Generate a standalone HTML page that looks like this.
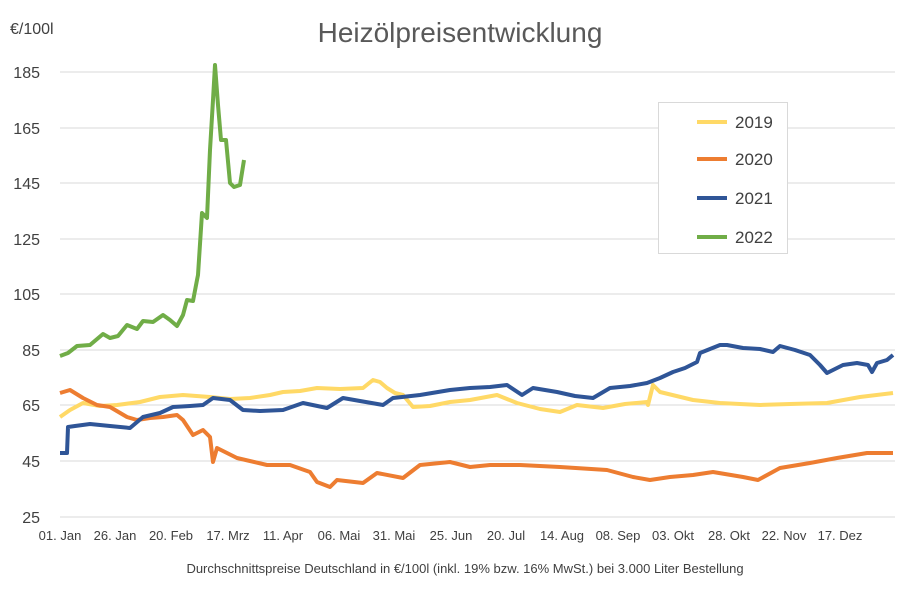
<!DOCTYPE html>
<html><head><meta charset="utf-8"><style>
body{margin:0;background:#fff;}
text{font-family:"Liberation Sans",sans-serif;}
</style></head><body>
<svg width="920" height="586" xmlns="http://www.w3.org/2000/svg">
<rect width="920" height="586" fill="#fff"/>
<text x="460" y="42" font-size="28" fill="#595959" text-anchor="middle">Heizölpreisentwicklung</text>
<text x="10" y="34" font-size="16" fill="#404040">€/100l</text>
<g stroke="#d9d9d9" stroke-width="1">
<line x1="60" x2="895" y1="72" y2="72"/><line x1="60" x2="895" y1="128" y2="128"/>
<line x1="60" x2="895" y1="183" y2="183"/><line x1="60" x2="895" y1="239" y2="239"/>
<line x1="60" x2="895" y1="294" y2="294"/><line x1="60" x2="895" y1="350" y2="350"/>
<line x1="60" x2="895" y1="405" y2="405"/><line x1="60" x2="895" y1="461" y2="461"/>
<line x1="60" x2="895" y1="517" y2="517"/>
</g>
<g font-size="16" fill="#404040" text-anchor="end">
<text x="40" y="78">185</text><text x="40" y="134">165</text><text x="40" y="189">145</text>
<text x="40" y="245">125</text><text x="40" y="300">105</text><text x="40" y="356">85</text>
<text x="40" y="411">65</text><text x="40" y="467">45</text><text x="40" y="523">25</text>
</g>
<g font-size="13" fill="#404040" text-anchor="middle">
<text x="60" y="540">01. Jan</text><text x="115" y="540">26. Jan</text><text x="171" y="540">20. Feb</text>
<text x="228" y="540">17. Mrz</text><text x="283" y="540">11. Apr</text><text x="339" y="540">06. Mai</text>
<text x="394" y="540">31. Mai</text><text x="451" y="540">25. Jun</text><text x="506" y="540">20. Jul</text>
<text x="562" y="540">14. Aug</text><text x="618" y="540">08. Sep</text><text x="673" y="540">03. Okt</text>
<text x="729" y="540">28. Okt</text><text x="784" y="540">22. Nov</text><text x="840" y="540">17. Dez</text>
</g>
<text x="465" y="573" font-size="13" fill="#404040" text-anchor="middle">Durchschnittspreise Deutschland in €/100l (inkl. 19% bzw. 16%  MwSt.) bei 3.000 Liter Bestellung</text>
<g fill="none" stroke-width="4" stroke-linejoin="round">
<polyline stroke="#ffd966" points="60,417 70,410 83,403 100,406 117,405 140,402 160,397 183,395 210,397 230,399 250,398 270,395 283,392 300,391 317,388 340,389 363,388 373,380 380,382 387,388 395,393 403,395 413,407 430,406 450,402 470,400 497,395 517,403 540,409 560,412 577,405 603,408 625,404 647,402 648,405 653,385 660,392 693,400 720,403 760,405 790,404 827,403 860,397 893,393"/>
<polyline stroke="#ed7d31" points="60,393 70,390 83,398 97,405 110,407 127,417 137,420 150,418 163,417 177,415 183,420 193,435 203,430 210,437 213,462 217,448 237,458 267,465 290,465 310,472 317,482 330,487 337,480 363,483 377,473 403,478 420,465 450,462 470,467 490,465 520,465 560,467 607,470 633,477 650,480 670,477 693,475 713,472 743,477 758,480 780,468 810,463 837,458 867,453 893,453"/>
<polyline stroke="#2f5597" points="60,453 67,453 68,427 75,426 90,424 110,426 130,428 143,417 160,413 173,407 190,406 203,405 213,398 230,400 243,410 260,411 283,410 303,403 327,408 343,398 360,401 383,405 393,398 420,395 450,390 470,388 490,387 507,385 522,395 533,388 557,392 575,396 593,398 610,388 630,386 647,383 660,378 673,372 685,368 697,362 700,353 720,345 727,345 743,348 760,349 773,352 780,346 795,350 810,355 820,365 827,373 843,365 857,363 868,365 872,372 877,363 887,360 893,355"/>
<polyline stroke="#70ad47" points="60,356 68,353 77,346 90,345 103,334 110,338 118,336 127,325 137,329 143,321 153,322 163,315 170,320 177,326 183,315 187,300 193,301 197,280 198,275 202,213 207,218 210,150 213,100 215,65 218,105 221,140 226,140 230,183 234,187 240,185 244,160"/>
</g>
<rect x="658.5" y="102.5" width="129" height="151" fill="#fff" stroke="#d9d9d9"/>
<g stroke-width="4">
<line x1="697" x2="727" y1="122" y2="122" stroke="#ffd966"/>
<line x1="697" x2="727" y1="159" y2="159" stroke="#ed7d31"/>
<line x1="697" x2="727" y1="198" y2="198" stroke="#2f5597"/>
<line x1="697" x2="727" y1="237" y2="237" stroke="#70ad47"/>
</g>
<g font-size="17" fill="#404040">
<text x="735" y="128">2019</text><text x="735" y="165">2020</text>
<text x="735" y="204">2021</text><text x="735" y="243">2022</text>
</g>
</svg>
</body></html>
